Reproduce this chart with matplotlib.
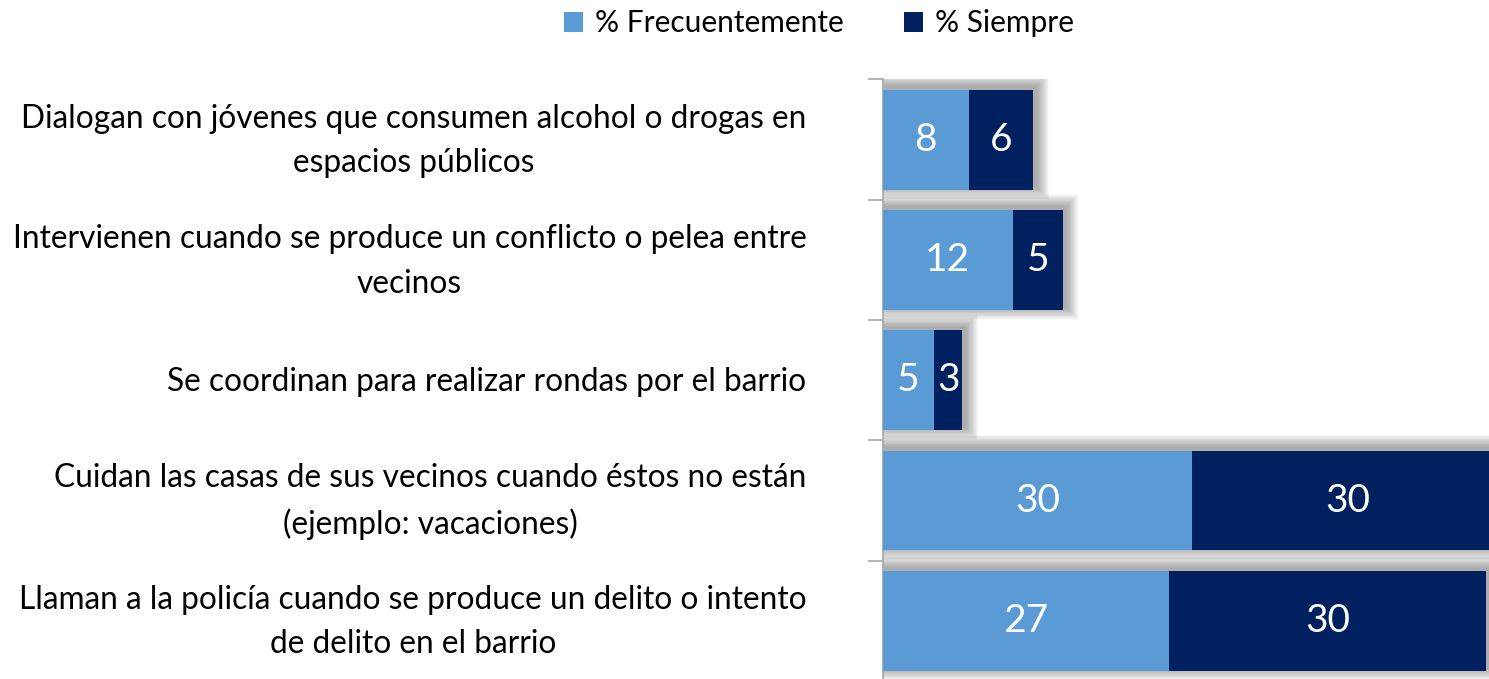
import matplotlib
matplotlib.use("Agg")
import matplotlib.pyplot as plt
from matplotlib.patches import Rectangle
import numpy as np

plt.rcParams['font.family'] = ['Lato', 'DejaVu Sans']

categories = [
    "Dialogan con jóvenes que consumen alcohol o drogas en\nespacios públicos",
    "Intervienen cuando se produce un conflicto o pelea entre\nvecinos",
    "Se coordinan para realizar rondas por el barrio",
    "Cuidan las casas de sus vecinos cuando éstos no están\n(ejemplo: vacaciones)",
    "Llaman a la policía cuando se produce un delito o intento\nde delito en el barrio",
]
frecuentemente = [8.2, 12.4, 4.9, 29.6, 27.4]
siempre = [6.2, 4.8, 2.7, 29.8, 30.3]
series_names = ["% Frecuentemente", "% Siempre"]
colors = ["#5B9BD5", "#002060"]

fig = plt.figure(figsize=(14.89, 6.79), dpi=100)
ax = fig.add_axes([0.593, -0.003, 0.407, 0.886])

y = np.arange(len(categories))
h = 0.83
xmax = 58.0
ax.set_xlim(0, xmax)
ax.set_ylim(len(categories) - 0.5, -0.5)

# px -> data conversions for the shadow
ax_w = fig.get_figwidth() * fig.dpi * 0.407
ax_h = fig.get_figheight() * fig.dpi * 0.886
px_x = xmax / ax_w
px_y = len(categories) / ax_h

# soft shadow behind each stacked bar (offset up/right)
for i in range(len(categories)):
    total = frecuentemente[i] + siempre[i]
    n = 16
    for k in range(n):
        e = (n - k) * 0.8
        dx, dy = 3 * px_x, -3 * px_y
        r = Rectangle((dx - e * px_x, y[i] - h / 2 + dy - e * px_y),
                      total + 2 * e * px_x, h + 2 * e * px_y,
                      facecolor="#404040", edgecolor="none", alpha=0.03, zorder=1)
        ax.add_patch(r)

b1 = ax.barh(y, frecuentemente, height=h, color=colors[0], label=series_names[0], zorder=3)
b2 = ax.barh(y, siempre, left=frecuentemente, height=h, color=colors[1], label=series_names[1], zorder=3)

for i in range(len(categories)):
    ax.text(frecuentemente[i] / 2, y[i], f"{frecuentemente[i]:.0f}", ha="center", va="center",
            color="white", fontsize=28, zorder=4)
    ax.text(frecuentemente[i] + siempre[i] / 2, y[i], f"{siempre[i]:.0f}", ha="center", va="center",
            color="white", fontsize=28, zorder=4)

# category labels, right aligned, lines centred within the block
for i, lab in enumerate(categories):
    ax.annotate(lab, xy=(0, y[i]), xycoords=("axes fraction", "data"),
                xytext=(-55, -1), textcoords="offset points",
                ha="right", va="center", multialignment="center",
                fontsize=22.8, linespacing=1.6, color="#000000")

ax.set_yticks([])
ax.set_yticks(np.arange(len(categories) + 1) - 0.5, minor=True)
ax.tick_params(axis="y", which="minor", length=11, color="#A6A6A6", width=1.2)
ax.set_yticklabels([], minor=True)
ax.set_xticks([])

for s in ["top", "right", "bottom"]:
    ax.spines[s].set_visible(False)
ax.spines["left"].set_color("#A6A6A6")
ax.spines["left"].set_linewidth(1.2)

fig.legend(handles=[b1, b2], loc="center", bbox_to_anchor=(0.55, 0.966), ncol=2, frameon=False,
           fontsize=21.5, handlelength=0.65, handleheight=0.65, handletextpad=0.4, columnspacing=2.0)

fig.savefig("out.png", dpi=100)
